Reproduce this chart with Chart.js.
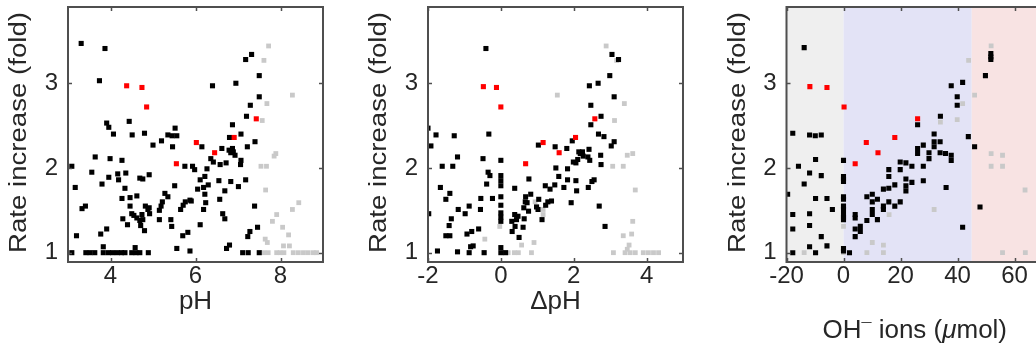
<!DOCTYPE html>
<html><head><meta charset="utf-8">
<script src="https://cdn.jsdelivr.net/npm/chart.js@4.4.1/dist/chart.umd.min.js"></script>
<style>
html,body{margin:0;padding:0;background:#fff;}
#wrap{position:relative;width:1036px;height:347px;overflow:hidden;background:#fff;}
canvas{position:absolute;top:0;}
</style></head><body>
<div id="wrap">
<canvas id="c1" width="340" height="347" style="left:0px"></canvas>
<canvas id="c2" width="345" height="347" style="left:345px"></canvas>
<canvas id="c3" width="360" height="347" style="left:700px"></canvas>
</div>
<script>
// ---------- tick labels ----------
const rate_ticks = [1, 2, 3];
const ph_ticks = [4, 6, 8];
const dph_ticks = [-2, 0, 2, 4];
const oh_ticks = [-20, 0, 20, 40, 60];
const oh_region_edges = [-20, 0, 45, 70];

// ---------- panel 1: pH ----------
const ph_black_x = [3.31,3.87,3.74,6.40,6.95,7.18,7.32,7.50,7.50,7.29,7.20,6.87,3.91,3.96,4.44,5.52,4.07,4.51,4.80,5.35,5.45,5.56,5.20,5.00,5.46,7.07,6.80,7.40,7.22,6.87,6.79,6.83,6.89,6.93,6.62,6.15,6.36,6.42,6.58,6.72,7.07,7.06,6.27,5.75,5.93,5.98,6.22,6.11,6.30,6.19,6.05,6.55,6.83,7.18,7.01,6.69,6.22,6.24,6.19,6.57,7.39,6.64,6.69,6.11,7.46,7.28,7.23,6.80,6.73,7.11,7.24,7.50,5.87,5.56,5.82,5.70,5.51,5.28,5.35,5.22,5.19,5.15,5.15,5.42,5.44,5.76,5.87,5.90,5.71,5.65,4.91,4.69,4.76,4.36,4.17,4.19,3.96,4.27,3.99,3.64,3.09,3.56,3.80,3.17,4.34,4.27,4.46,4.62,4.46,4.82,4.91,4.88,3.33,3.41,4.50,4.55,4.62,4.74,4.76,4.69,4.71,4.80,4.92,4.29,4.40,3.91,3.77,3.20,3.83,4.58,3.09,3.42,3.52,3.63,3.83,3.95,4.05,4.16,4.26,4.34,4.50,4.60,4.69,4.89];
const ph_black_y = [3.47,3.41,3.03,2.97,3.00,3.28,3.34,3.09,2.84,2.74,2.61,2.51,2.53,2.48,2.55,2.47,2.40,2.39,2.41,2.39,2.38,2.38,2.32,2.27,2.25,2.40,2.36,2.31,2.25,2.23,2.21,2.18,2.19,2.15,2.23,2.25,2.11,2.07,2.04,2.06,2.09,2.04,1.99,2.02,2.02,1.98,1.90,1.86,1.80,1.77,1.75,1.85,1.84,1.86,1.78,1.73,1.69,1.59,1.51,1.63,1.55,1.46,1.40,1.33,1.30,1.25,1.19,1.09,1.05,1.00,1.00,1.00,1.02,1.05,1.24,1.20,1.79,1.70,1.66,1.60,1.55,1.50,1.39,1.39,1.31,1.60,1.62,1.61,1.56,1.51,1.92,1.88,1.87,1.94,1.93,1.86,1.89,2.09,2.11,2.13,2.02,1.95,1.81,1.77,1.76,1.64,1.65,1.67,1.55,1.55,1.53,1.51,1.52,1.55,1.46,1.44,1.41,1.45,1.39,1.38,1.32,1.26,1.46,1.40,1.33,1.28,1.22,1.20,1.07,1.06,1,1,1,1,1,1,1,1,1,1,1,1,1,1];
const ph_red_x = [4.38,4.74,4.85,7.43,6.02,6.91,6.45,5.55];
const ph_red_y = [2.97,2.95,2.72,2.58,2.30,2.36,2.18,2.05];
const ph_gray_x = [7.72,7.61,8.28,7.68,7.57,7.89,7.85,7.54,7.67,7.65,8.43,8.28,7.91,7.81,8.05,8.19,7.64,7.69,8.21,8.07,7.61,7.71,7.91,7.99,8.08,8.30,8.42,8.54,8.65,8.77,8.85];
const ph_gray_y = [3.44,3.27,2.86,2.76,2.56,2.17,2.14,2.02,2.02,1.74,1.59,1.51,1.45,1.37,1.30,1.21,1.16,1.12,1.08,1.08,1,1,1,1,1,1,1,1,1,1,1];

// ---------- panel 2: delta pH ----------
const dph_black_x = [-0.41,2.43,2.67,2.99,3.05,3.23,3.11,2.47,2.75,2.47,-2.00,-1.78,-1.28,-0.33,-1.92,-1.19,-1.61,-1.32,-0.49,0.00,-0.35,-0.30,0.00,0.00,0.00,-0.39,-1.66,-1.40,-1.51,-0.55,-0.23,0.00,0.00,-1.17,-0.87,-0.98,-0.56,-1.98,-1.36,-1.42,-1.51,-1.40,-0.93,-0.80,-0.61,-0.76,-0.83,-1.74,-1.19,-0.87,-0.46,0.00,0.00,0.13,0.00,0.00,0.00,0.38,0.77,0.82,0.68,0.67,0.72,0.63,0.76,0.64,1.04,0.98,1.02,1.13,0.47,0.38,0.43,0.30,0.39,0.31,0.50,0.61,1.29,1.39,1.23,1.22,1.35,1.48,1.59,1.73,1.83,2.06,2.08,1.93,1.51,1.49,1.81,1.96,1.83,1.99,2.06,2.11,2.14,2.18,2.26,2.24,2.42,2.39,2.44,2.50,2.56,2.40,2.68,2.83,3.03,3.11,2.74,2.75,2.70,2.86,1.03];
const dph_black_y = [3.41,2.97,3.00,3.09,3.34,3.28,2.84,2.74,2.61,2.51,2.47,2.39,2.38,2.40,2.26,2.13,2.02,2.02,2.11,2.09,1.95,1.91,1.91,1.85,1.79,1.81,1.77,1.70,1.63,1.64,1.64,1.66,1.56,1.51,1.55,1.46,1.51,1.46,1.40,1.32,1.20,1.20,1.22,1.25,1.28,1.08,1.07,1.02,1.01,1.00,1.00,1.06,1.00,1.00,1.47,1.42,1.37,1.76,1.87,1.69,1.66,1.60,1.59,1.53,1.49,1.40,1.63,1.54,1.51,1.39,1.43,1.45,1.39,1.37,1.31,1.25,1.18,1.30,1.60,1.61,1.56,1.79,1.75,1.80,1.90,1.77,1.86,1.85,1.73,1.59,2.00,2.25,2.23,2.32,1.99,2.07,2.06,2.10,2.19,2.17,2.14,2.19,2.22,2.13,2.09,1.84,1.86,1.77,2.40,2.37,2.26,2.31,2.15,2.04,1.55,1.31,2.27];
const dph_red_x = [-0.48,-0.12,0.00,2.58,0.68,1.16,1.60,2.05];
const dph_red_y = [2.96,2.95,2.72,2.58,2.05,2.30,2.18,2.36];
const dph_gray_x = [2.89,3.18,1.55,3.39,3.12,3.47,3.62,3.07,3.36,3.69,3.62,3.36,3.59,3.52,3.47,0.94,1.16,1.16,0.91,0.57,-0.44,-0.03,-0.45,0.06,0.20,0.37,0.48,0.84,3.09,3.41,3.55,3.69,3.91,4.05,4.19,4.33];
const dph_gray_y = [3.44,3.27,2.86,2.76,2.56,2.15,2.17,2.02,2.02,1.74,1.37,1.20,1.22,1.09,1.04,1.60,1.51,1.45,1.12,1.09,1.16,1.31,1,1,1,1,1,1,1,1,1,1,1,1,1,1];

// ---------- panel 3: OH- ions (umol) ----------
const oh_black_x = [-13.8,37.8,41.8,39.9,39.9,34.0,26.0,49.8,51.7,51.7,51.7,-17.8,-11.9,-9.9,-7.8,-15.8,-9.8,-11.9,-7.8,-13.8,-19.6,-9.8,-5.8,-3.9,-17.8,-11.9,-17.8,-11.9,-7.8,-11.9,-5.8,-17.8,-9.8,0,0,0,0,0,0,0,0,0,0,0,0,0,2.1,4.1,4.1,4.1,5.9,5.9,4.1,8.2,8.2,10.1,10.1,10.1,10.1,11.9,11.9,14.0,14.0,14.0,15.9,15.9,18.0,18.0,19.9,15.9,15.9,19.9,19.9,21.9,21.9,21.9,21.9,24.0,24.0,26.0,26.0,28.0,28.0,28.0,30.0,30.0,31.8,31.8,31.8,33.9,33.9,35.8,37.8,37.8,36.0,41.8,43.8,46.0,47.9];
const oh_black_y = [3.42,2.97,3.01,2.84,2.74,2.61,2.51,3.09,3.35,3.31,3.28,2.41,2.39,2.38,2.39,2.02,2.10,1.94,1.91,1.81,1.69,1.64,1.64,1.51,1.45,1.46,1.28,1.32,1.19,1.07,1.08,1.00,1.00,2.09,1.90,1.87,1.84,1.66,1.63,1.55,1.51,1.45,1.42,1.39,1.05,1.02,1.00,1.45,1.41,1.28,1.31,1.25,1.19,1.66,1.38,1.69,1.60,1.51,1.45,1.63,1.39,1.75,1.55,1.51,1.76,1.60,1.80,1.55,1.60,1.90,1.98,2.07,1.98,2.06,1.87,1.79,1.73,2.02,1.83,2.23,2.17,2.27,2.02,1.85,2.18,2.11,2.40,2.31,2.25,2.31,2.18,2.17,2.15,2.09,1.77,1.30,2.37,2.25,1.54];
const oh_red_x = [-11.8,-5.8,0.2,26.0,8.0,18.0,12.1,4.1];
const oh_red_y = [2.96,2.95,2.72,2.58,2.30,2.36,2.18,2.05];
const oh_gray_x = [51.8,43.9,46.0,41.8,39.9,34.0,-13.8,0,0,8.2,14.0,10.1,14.0,16.0,31.8,51.8,55.8,51.8,55.8,63.7,55.8,63.8];
const oh_gray_y = [3.44,3.27,2.86,2.76,2.57,2.54,1.00,1.00,1.31,1.00,1.00,1.12,1.09,1.45,1.51,2.17,2.15,2.02,2.02,1.74,1.00,1.00];

// ---------- helpers ----------
function pts(xs, ys) {
  const n = Math.min(xs.length, ys.length), out = [];
  for (let i = 0; i < n; i++) out.push({x: xs[i], y: ys[i]});
  return out;
}
const FONT = "'Liberation Sans', Arial, Helvetica, sans-serif";
const TXT = '#262626';
const AXC = '#4f4f4f';

const boxPlugin = {
  id: 'mbox',
  beforeDatasetsDraw(chart, args, o) {
    if (!o.bands) return;
    const ctx = chart.ctx, a = chart.chartArea, x = chart.scales.x;
    ctx.save();
    for (let i = 0; i < o.bands.edges.length - 1; i++) {
      const x0 = Math.max(a.left, x.getPixelForValue(o.bands.edges[i]));
      const x1 = Math.min(a.right, x.getPixelForValue(o.bands.edges[i + 1]));
      ctx.fillStyle = o.bands.colors[i];
      ctx.fillRect(x0, a.top, x1 - x0, a.bottom - a.top);
    }
    ctx.restore();
  },
  afterDraw(chart, args, o) {
    const ctx = chart.ctx, a = chart.chartArea, sx = chart.scales.x, sy = chart.scales.y;
    ctx.save();
    ctx.strokeStyle = AXC; ctx.lineWidth = 2;
    ctx.strokeRect(a.left, a.top, a.right - a.left, a.bottom - a.top);
    ctx.lineWidth = 1.5;
    ctx.beginPath();
    for (const v of o.xt) {
      const p = Math.round(sx.getPixelForValue(v)) + 0.5;
      ctx.moveTo(p, a.bottom); ctx.lineTo(p, a.bottom - 4);
      ctx.moveTo(p, a.top); ctx.lineTo(p, a.top + 4);
    }
    for (const v of rate_ticks) {
      const p = Math.round(sy.getPixelForValue(v)) + 0.5;
      ctx.moveTo(a.left, p); ctx.lineTo(a.left + 4, p);
      ctx.moveTo(a.right, p); ctx.lineTo(a.right - 4, p);
    }
    ctx.stroke();
    // y title
    ctx.fillStyle = TXT;
    ctx.save();
    ctx.translate(a.left - 42, (a.top + a.bottom) / 2 - 2);
    ctx.rotate(-Math.PI / 2);
    ctx.scale(1.2, 1);
    ctx.font = '23px ' + FONT;
    ctx.textAlign = 'center'; ctx.textBaseline = 'alphabetic';
    ctx.fillText('Rate increase (fold)', 0, 0);
    ctx.restore();
    // x title (rich parts)
    const parts = o.xtitle;
    let total = 0;
    for (const p of parts) { ctx.font = p.f; total += ctx.measureText(p.t).width; }
    let cx = (a.left + a.right) / 2 - total / 2;
    ctx.textAlign = 'left'; ctx.textBaseline = 'alphabetic';
    for (const p of parts) {
      ctx.font = p.f;
      ctx.fillText(p.t, cx, o.xtBase - (p.dy || 0));
      cx += ctx.measureText(p.t).width;
    }
    ctx.restore();
  }
};

function makeChart(id, cfg) {
  const ds = [
    {data: pts(cfg.rx, cfg.ry), backgroundColor: '#ff0000', pointRadius: 3.6},
    {data: pts(cfg.bx, cfg.by), backgroundColor: '#000000', pointRadius: 3.6},
    {data: pts(cfg.gx, cfg.gy), backgroundColor: '#c9c9c9', pointRadius: 3.4}
  ].map(d => Object.assign(d, {pointStyle: 'rect', borderWidth: 0, pointHoverRadius: d.pointRadius}));
  return new Chart(document.getElementById(id), {
    type: 'scatter',
    data: {datasets: ds},
    options: {
      responsive: false, animation: false, devicePixelRatio: 1,
      layout: {padding: {top: 7, right: cfg.rightPad, left: 0, bottom: 0}},
      plugins: {legend: {display: false}, tooltip: {enabled: false},
        mbox: {bands: cfg.bands, xt: cfg.xticks, xtitle: cfg.xtitle, xtBase: cfg.xtBase}},
      scales: {
        x: {type: 'linear', min: cfg.xmin, max: cfg.xmax,
          grid: {display: false, drawTicks: false}, border: {display: false},
          ticks: {font: {size: 24, family: FONT}, color: TXT, padding: 0, maxRotation: 0, autoSkip: false},
          afterBuildTicks: s => { s.ticks = cfg.xticks.map(v => ({value: v})); },
          afterFit: s => { s.height = 85; s.paddingLeft = 0; s.paddingRight = 0; }
        },
        y: {type: 'linear', min: 0.89, max: 3.9,
          grid: {display: false, drawTicks: false}, border: {display: false},
          ticks: {font: {size: 24, family: FONT}, color: TXT, padding: 10},
          afterBuildTicks: s => { s.ticks = rate_ticks.map(v => ({value: v})); },
          afterFit: s => { s.width = cfg.leftW; s.paddingTop = 0; s.paddingBottom = 0; }
        }
      }
    },
    plugins: [boxPlugin]
  });
}

const F26 = '26px ' + FONT;
makeChart('c1', {bx: ph_black_x, by: ph_black_y, rx: ph_red_x, ry: ph_red_y, gx: ph_gray_x, gy: ph_gray_y,
  xmin: 3, xmax: 9, xticks: ph_ticks, leftW: 68, rightPad: 17,
  xtitle: [{t: 'pH', f: F26}], xtBase: 309});
makeChart('c2', {bx: dph_black_x, by: dph_black_y, rx: dph_red_x, ry: dph_red_y, gx: dph_gray_x, gy: dph_gray_y,
  xmin: -2, xmax: 5, xticks: dph_ticks, leftW: 83, rightPad: 7,
  xtitle: [{t: '\u0394pH', f: F26}], xtBase: 309});
makeChart('c3', {bx: oh_black_x, by: oh_black_y, rx: oh_red_x, ry: oh_red_y, gx: oh_gray_x, gy: oh_gray_y,
  xmin: -20, xmax: 70, xticks: oh_ticks, leftW: 86.5, rightPad: 17,
  bands: {edges: oh_region_edges, colors: ['#efefef', '#e3e3f6', '#f8e3e3']},
  xtitle: [{t: 'OH', f: F26}, {t: '\u00AF', f: '18px ' + FONT, dy: 2}, {t: ' ions (', f: F26}, {t: '\u03BC', f: 'italic 26px ' + FONT}, {t: 'mol)', f: F26}],
  xtBase: 338});
</script>
</body></html>
